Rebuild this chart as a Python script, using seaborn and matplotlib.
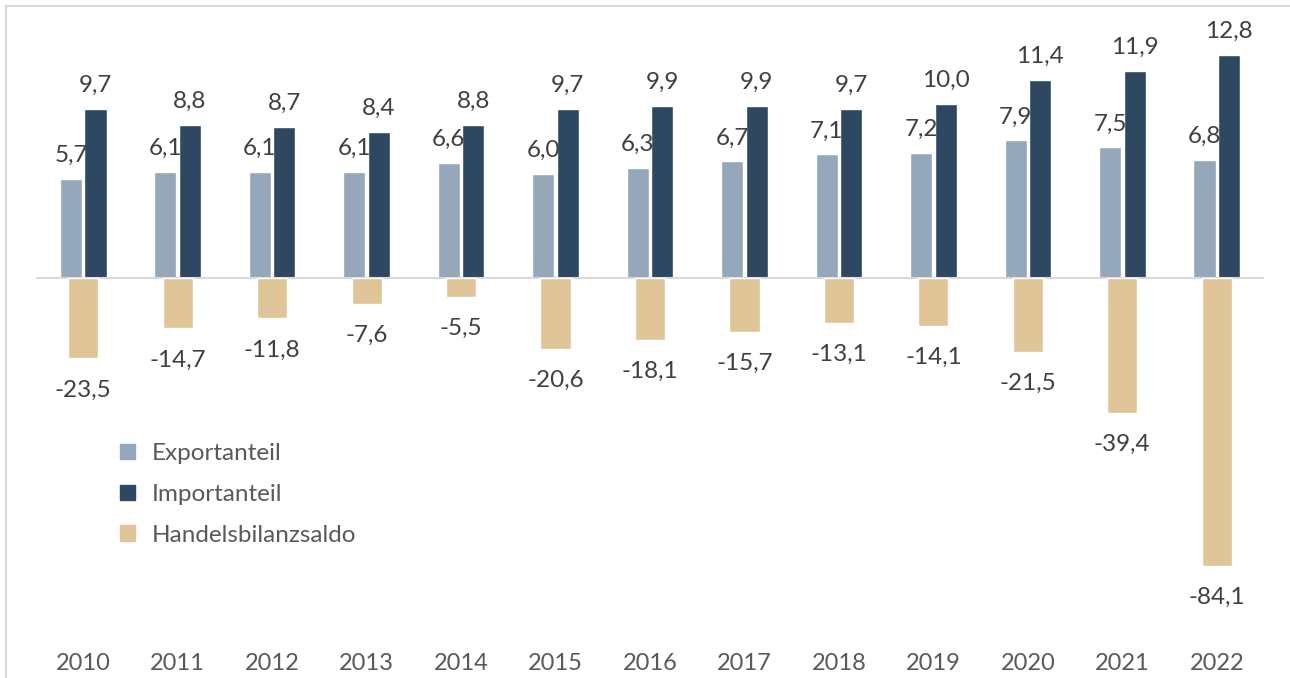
import pandas as pd
import numpy as np
import matplotlib
matplotlib.use("Agg")
import matplotlib.pyplot as plt
import matplotlib.patches as mpatches
import seaborn as sns

# Daten
jahre = ["2010", "2011", "2012", "2013", "2014", "2015", "2016",
         "2017", "2018", "2019", "2020", "2021", "2022"]
exportanteil = [5.7, 6.1, 6.1, 6.1, 6.6, 6.0, 6.3, 6.7, 7.1, 7.2, 7.9, 7.5, 6.8]
importanteil = [9.7, 8.8, 8.7, 8.4, 8.8, 9.7, 9.9, 9.9, 9.7, 10.0, 11.4, 11.9, 12.8]
saldo = [-23.5, -14.7, -11.8, -7.6, -5.5, -20.6, -18.1, -15.7, -13.1, -14.1,
         -21.5, -39.4, -84.1]

c_export = "#94A7BB"
c_import = "#2E4862"
c_saldo = "#E0C598"
c_text = "#404040"
c_axis = "#595959"

sns.set_style("white")
plt.rcParams["font.family"] = ["Lato", "DejaVu Sans"]

df = pd.DataFrame({"Jahr": jahre * 2,
                   "Wert": exportanteil + importanteil,
                   "Reihe": ["Exportanteil"] * len(jahre) + ["Importanteil"] * len(jahre)})

W, H = 1290, 678
fig = plt.figure(figsize=(W / 100, H / 100), dpi=100)
ax = fig.add_axes([36 / W, 1 - 645 / H, (1264 - 36) / W, (645 - 10) / H])

sns.barplot(data=df, x="Jahr", y="Wert", hue="Reihe",
            palette=[c_export, c_import], width=0.52, gap=0.1,
            ax=ax, legend=False, saturation=1)

ax2 = ax.twinx()
sns.barplot(x=jahre, y=saldo, color=c_saldo, width=0.32, ax=ax2, saturation=1)

# Skalen: Null bei gleicher Höhe
ax.set_ylim(-21.1, 15.4)
ax2.set_ylim(-107.3, 78.4)
ax.set_xlim(-0.5, 12.5)

ax.axhline(0, color="#D9D9D9", lw=1.5, zorder=3)

# Datenbeschriftungen
def fmt(v):
    return f"{v:.1f}".replace(".", ",")

for cont in ax.containers:
    for bar in cont:
        h = bar.get_height()
        ax.annotate(fmt(h), (bar.get_x() + bar.get_width() / 2, h),
                    xytext=(0, 17), textcoords="offset pixels",
                    ha="center", va="baseline", fontsize=17.5, color=c_text)
for cont in ax2.containers:
    for bar in cont:
        h = bar.get_height()
        ax2.annotate(fmt(h), (bar.get_x() + bar.get_width() / 2, h),
                     xytext=(0, -38), textcoords="offset pixels",
                     ha="center", va="baseline", fontsize=17.5, color=c_text)

for a in (ax, ax2):
    a.set_xlabel("")
    a.set_ylabel("")
    for s in a.spines.values():
        s.set_visible(False)
    a.set_yticks([])
ax.tick_params(axis="x", length=0, pad=6, labelsize=17, labelcolor=c_axis)
ax2.tick_params(axis="x", length=0)

handles = [mpatches.Patch(color=c_export, label="Exportanteil"),
           mpatches.Patch(color=c_import, label="Importanteil"),
           mpatches.Patch(color=c_saldo, label="Handelsbilanzsaldo")]
leg = ax2.legend(handles=handles, loc="upper left",
                 bbox_to_anchor=(120 / W, 1 - 443 / H), bbox_transform=fig.transFigure,
                 frameon=False, fontsize=17.5, borderpad=0, borderaxespad=0,
                 handlelength=0.62, handleheight=0.62, handletextpad=0.7,
                 labelspacing=0.82)
for t in leg.get_texts():
    t.set_color(c_axis)

# Rahmen des Diagramms
fig.add_artist(mpatches.Rectangle((6 / W, -0.5), 2, 1.5 - 6 / H, transform=fig.transFigure,
                                  fill=False, edgecolor="#D9D9D9", lw=1.5))

fig.savefig("out.png", dpi=100)
